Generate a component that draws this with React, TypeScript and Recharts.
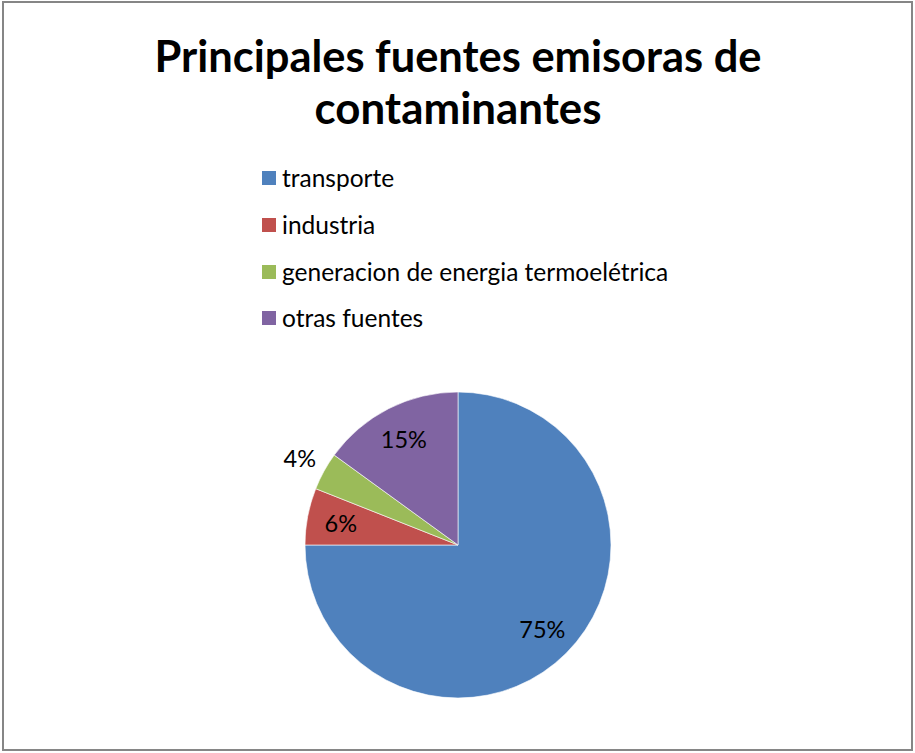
import { PieChart, Pie, Cell } from "recharts";

const categories = [
  "transporte",
  "industria",
  "generacion de energia termoelétrica",
  "otras fuentes",
];
const values = [75, 6, 4, 15];
const colors = ["#4F81BD", "#C0504D", "#9BBB59", "#8064A2"];
const titleLines = ["Principales fuentes emisoras de", "contaminantes"];

const FONT = "Lato, 'Open Sans', sans-serif";

const data = categories.map((name, i) => ({ name, value: values[i] }));

const RAD = Math.PI / 180;

function renderLabel(props: any) {
  const { cx, cy, midAngle, outerRadius, percent } = props;
  const r = percent < 0.05 ? outerRadius * 1.18 : outerRadius * 0.78;
  const x = cx + r * Math.cos(-midAngle * RAD);
  const y = cy + r * Math.sin(-midAngle * RAD);
  return (
    <text
      x={x}
      y={y}
      fill="#000"
      textAnchor="middle"
      dominantBaseline="central"
      fontFamily={FONT}
      fontSize={23.5}
    >
      {`${Math.round(percent * 100)}%`}
    </text>
  );
}

export default function App() {
  return (
    <div
      style={{
        position: "absolute",
        left: 0,
        top: 0,
        width: 915,
        height: 753,
        background: "#fff",
        fontFamily: FONT,
      }}
    >
      <div
        style={{
          position: "absolute",
          left: 2,
          top: 1,
          width: 907,
          height: 746,
          border: "2px solid #868686",
        }}
      />
      <svg
        width={915}
        height={140}
        style={{ position: "absolute", left: 0, top: 0 }}
      >
        <text
          x={458}
          y={72}
          textAnchor="middle"
          fontFamily={FONT}
          fontWeight={700}
          fontSize={44}
          textLength={607}
          lengthAdjust="spacingAndGlyphs"
        >
          {titleLines[0]}
        </text>
        <text
          x={458}
          y={124}
          textAnchor="middle"
          fontFamily={FONT}
          fontWeight={700}
          fontSize={44}
          textLength={287}
          lengthAdjust="spacingAndGlyphs"
        >
          {titleLines[1]}
        </text>
      </svg>
      <div style={{ position: "absolute", left: 262, top: 155 }}>
        {categories.map((c, i) => (
          <div
            key={c}
            style={{
              display: "flex",
              alignItems: "center",
              height: 46.7,
            }}
          >
            <div
              style={{
                width: 14,
                height: 14,
                background: colors[i],
                marginRight: 6,
              }}
            />
            <span style={{ fontSize: 24.5, color: "#000", lineHeight: "32px" }}>
              {c}
            </span>
          </div>
        ))}
      </div>
      <div style={{ position: "absolute", left: 0, top: 0 }}>
        <PieChart
          width={915}
          height={753}
          margin={{ top: 0, right: 0, bottom: 0, left: 0 }}
        >
          <Pie
            data={data}
            dataKey="value"
            nameKey="name"
            cx={458}
            cy={545}
            outerRadius={153}
            startAngle={90}
            endAngle={-270}
            stroke="#ffffff"
            strokeWidth={0.6}
            label={renderLabel}
            labelLine={false}
            isAnimationActive={false}
          >
            {data.map((d, i) => (
              <Cell key={d.name} fill={colors[i]} />
            ))}
          </Pie>
        </PieChart>
      </div>
    </div>
  );
}
